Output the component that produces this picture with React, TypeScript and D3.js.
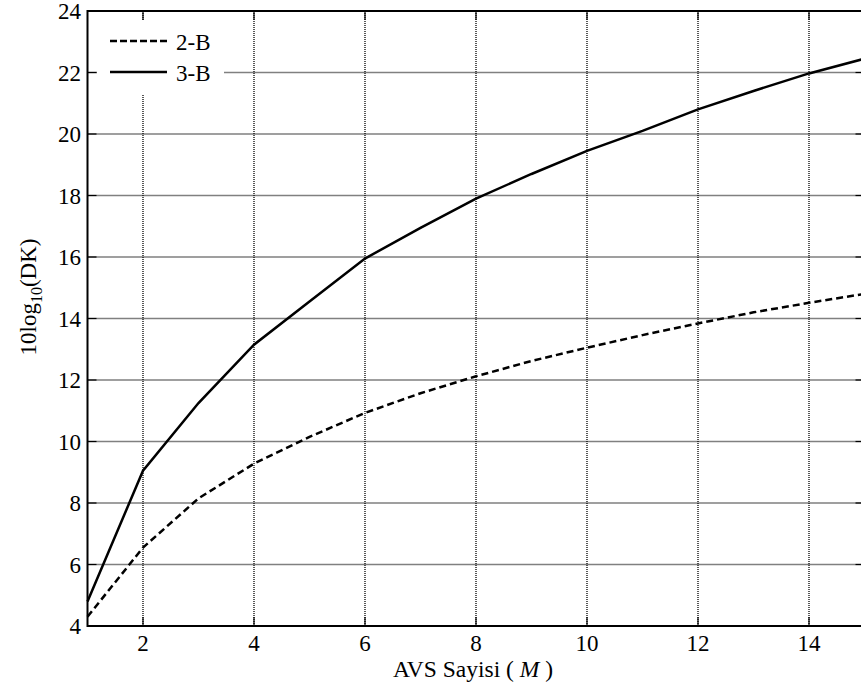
import React, { useRef, useEffect } from "react";
import * as d3 from "d3";

// AVS count (M)
const avsCount = [1, 2, 3, 4, 5, 6, 7, 8, 9, 10, 11, 12, 13, 14, 15];
// 10log10(DK) for the two schemes
const series2B = [4.3, 6.55, 8.15, 9.28, 10.15, 10.93, 11.57, 12.12, 12.62, 13.05, 13.46, 13.84, 14.2, 14.51, 14.8];
const series3B = [4.8, 9.05, 11.25, 13.15, 14.55, 15.95, 16.95, 17.9, 18.7, 19.45, 20.1, 20.8, 21.4, 21.97, 22.45];
const xTicks = [2, 4, 6, 8, 10, 12, 14];
const yTicks = [4, 6, 8, 10, 12, 14, 16, 18, 20, 22, 24];
const legendLabels = ["2-B", "3-B"];

const W = 861;
const H = 693;
const FONT = "Liberation Serif, Times New Roman, Times, serif";

const App = () => {
  const ref = useRef<SVGSVGElement | null>(null);

  useEffect(() => {
    const svg = d3.select(ref.current);
    svg.selectAll("*").remove();

    const left = 87.5, right = 864.5, top = 11, bottom = 626;
    const x = d3.scaleLinear().domain([1, 15]).range([left, right]);
    const y = d3.scaleLinear().domain([4, 24]).range([bottom, top]);

    svg.append("rect").attr("width", W).attr("height", H).attr("fill", "#fff");

    // grid (dotted)
    const grid = svg.append("g").attr("stroke", "#000").attr("stroke-width", 1.3).attr("stroke-dasharray", "1,1");
    grid.selectAll(".gx").data(xTicks).enter().append("line")
      .attr("x1", (d) => x(d)).attr("x2", (d) => x(d)).attr("y1", top).attr("y2", bottom);
    grid.selectAll(".gy").data(yTicks.slice(1, -1)).enter().append("line")
      .attr("x1", left).attr("x2", right).attr("y1", (d) => y(d)).attr("y2", (d) => y(d));

    // inner ticks
    const ticks = svg.append("g").attr("stroke", "#000").attr("stroke-width", 1.2);
    xTicks.forEach((t) => {
      ticks.append("line").attr("x1", x(t)).attr("x2", x(t)).attr("y1", bottom).attr("y2", bottom - 9);
      ticks.append("line").attr("x1", x(t)).attr("x2", x(t)).attr("y1", top).attr("y2", top + 9);
    });
    yTicks.forEach((t) => {
      ticks.append("line").attr("x1", left).attr("x2", left + 9).attr("y1", y(t)).attr("y2", y(t));
      ticks.append("line").attr("x1", right).attr("x2", right - 9).attr("y1", y(t)).attr("y2", y(t));
    });

    // lines
    const line = d3.line<number>().x((d, i) => x(avsCount[i])).y((d) => y(d));
    svg.append("path").datum(series2B).attr("d", line).attr("fill", "none")
      .attr("stroke", "#000").attr("stroke-width", 2.5).attr("stroke-dasharray", "7,4");
    svg.append("path").datum(series3B).attr("d", line).attr("fill", "none")
      .attr("stroke", "#000").attr("stroke-width", 2.5);

    // frame
    svg.append("rect").attr("x", left).attr("y", top).attr("width", right - left).attr("height", bottom - top)
      .attr("fill", "none").attr("stroke", "#000").attr("stroke-width", 2);

    // legend box (white, hides grid)
    svg.append("rect").attr("x", 97).attr("y", 20).attr("width", 127).attr("height", 74).attr("fill", "#fff");

    const txt = svg.append("g").attr("font-family", FONT).attr("font-size", 23).attr("fill", "#000");

    // tick labels
    txt.append("g").selectAll("text").data(xTicks).enter().append("text")
      .attr("x", (d) => x(d)).attr("y", 651).attr("text-anchor", "middle").text((d) => d);
    txt.append("g").selectAll("text").data(yTicks).enter().append("text")
      .attr("x", 81).attr("y", (d) => y(d) + 8).attr("text-anchor", "end").text((d) => d);

    // x label
    const xl = txt.append("text").attr("x", 473).attr("y", 677).attr("text-anchor", "middle").attr("font-size", 23.5);
    xl.append("tspan").text("AVS Sayisi ( ");
    xl.append("tspan").attr("font-style", "italic").text("M");
    xl.append("tspan").text(" )");

    // y label
    const yl = txt.append("text").attr("transform", "translate(36,297) rotate(-90)").attr("text-anchor", "middle");
    yl.append("tspan").text("10log");
    yl.append("tspan").attr("dy", 6).attr("font-size", 16).text("10");
    yl.append("tspan").attr("dy", -6).text("(DK)");

    // legend entries
    const dashes = ["7,3", null];
    legendLabels.forEach((lab, i) => {
      const ly = 41 + i * 31;
      const l = svg.append("line").attr("x1", 110).attr("x2", 167).attr("y1", ly).attr("y2", ly)
        .attr("stroke", "#000").attr("stroke-width", 2.5);
      if (dashes[i]) l.attr("stroke-dasharray", dashes[i] as string);
      txt.append("text").attr("x", 176).attr("y", ly + 9).text(lab);
    });
  }, []);

  return (
    <svg ref={ref} width={W} height={H} style={{ position: "absolute", left: 0, top: 0 }} />
  );
};

export default App;
